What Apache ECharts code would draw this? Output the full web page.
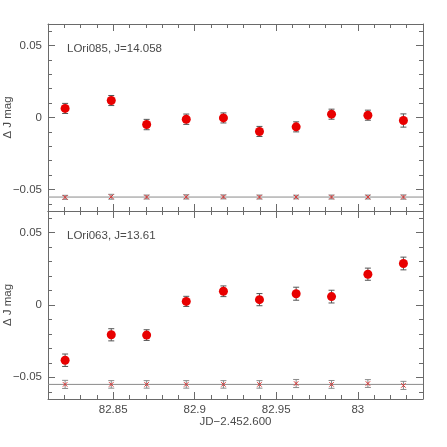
<!DOCTYPE html>
<html>
<head>
<meta charset="utf-8">
<script src="https://cdn.jsdelivr.net/npm/echarts@6/dist/echarts.min.js"></script>
<style>
  html, body { margin: 0; padding: 0; background: #fff; }
  #chart { width: 447px; height: 447px; }
</style>
</head>
<body>
<div id="chart"></div>
<script>
// observation times, JD - 2.452.600
const jd = [82.8205, 82.8488, 82.8705, 82.8948, 82.9176, 82.9397, 82.9622, 82.9839, 83.0062, 83.0280];

// LOri085, J=14.058
const mag085 = [0.0063, 0.0118, -0.0049, -0.0012, -0.0003, -0.0097, -0.0065, 0.0023, 0.0016, -0.0021];
const err085 = [0.0035, 0.0035, 0.0036, 0.0036, 0.0035, 0.0035, 0.0035, 0.0035, 0.0035, 0.0046];
const ref085 = [-0.0555, -0.0551, -0.0553, -0.0552, -0.0552, -0.0553, -0.0553, -0.0553, -0.0553, -0.0553];
const refErr085 = [0.0014, 0.0017, 0.0014, 0.0015, 0.0014, 0.0014, 0.0013, 0.0014, 0.0014, 0.0015];
const refLevel085 = -0.0553;

// LOri063, J=13.61
const mag063 = [-0.0382, -0.0206, -0.0208, 0.0025, 0.0095, 0.0037, 0.0078, 0.0058, 0.0213, 0.0287];
const err063 = [0.0043, 0.0042, 0.0037, 0.0035, 0.0037, 0.0042, 0.0045, 0.0044, 0.0042, 0.0044];
const ref063 = [-0.0549, -0.0549, -0.0549, -0.0549, -0.0549, -0.0549, -0.0543, -0.0549, -0.0543, -0.0556];
const refErr063 = [0.0028, 0.0026, 0.0026, 0.0026, 0.0026, 0.0026, 0.0028, 0.0027, 0.0027, 0.0028];
const refLevel063 = -0.0549;

// ticks
const xTicksMajor = [82.85, 82.9, 82.95, 83];
const xTicksMinor = [82.82, 82.83, 82.84, 82.85, 82.86, 82.87, 82.88, 82.89, 82.9, 82.91, 82.92,
  82.93, 82.94, 82.95, 82.96, 82.97, 82.98, 82.99, 83, 83.01, 83.02, 83.03];
const yTicksMajor = [-0.05, 0, 0.05];
const yTicksMinor = [-0.06, -0.05, -0.04, -0.03, -0.02, -0.01, 0, 0.01, 0.02, 0.03, 0.04, 0.05, 0.06];

const xMin = 82.81, xMax = 83.04;
const yMin = -0.065, yMax = 0.065;

const frame = '#6a6a6a';
const txt = '#4a4a4a';
const font = 'Liberation Sans';

const chart = echarts.init(document.getElementById('chart'));

function pack(ys, es) {
  return jd.map((x, i) => [x, ys[i], es[i]]);
}

function errBars(barColor, cross) {
  return function (params, api) {
    const x = api.value(0), y = api.value(1), e = api.value(2);
    const hi = api.coord([x, y + e]);
    const lo = api.coord([x, y - e]);
    const c = api.coord([x, y]);
    const cap = 3;
    const st = { stroke: barColor, lineWidth: 1 };
    const kids = [
      { type: 'line', shape: { x1: hi[0], y1: hi[1], x2: lo[0], y2: lo[1] }, style: st },
      { type: 'line', shape: { x1: hi[0] - cap, y1: hi[1], x2: hi[0] + cap, y2: hi[1] }, style: st },
      { type: 'line', shape: { x1: lo[0] - cap, y1: lo[1], x2: lo[0] + cap, y2: lo[1] }, style: st }
    ];
    if (cross) {
      const r = 2.2;
      const cs = { stroke: '#e03030', lineWidth: 1 };
      kids.push({ type: 'line', shape: { x1: c[0] - r, y1: c[1] - r, x2: c[0] + r, y2: c[1] + r }, style: cs });
      kids.push({ type: 'line', shape: { x1: c[0] - r, y1: c[1] + r, x2: c[0] + r, y2: c[1] - r }, style: cs });
    }
    return { type: 'group', children: kids };
  };
}

const frameLine = { show: true, onZero: false, lineStyle: { color: frame, width: 1 } };
const noLine = { show: false, onZero: false };

// four x axes and four y axes per panel: minor/major ticks, both sides
function xAxes(g, withLabels) {
  const base = {
    gridIndex: g, type: 'value', min: xMin, max: xMax,
    splitLine: { show: false }
  };
  return [
    Object.assign({}, base, {
      position: 'bottom',
      axisLine: frameLine,
      axisTick: { inside: true, length: 4, customValues: xTicksMinor, lineStyle: { color: frame } },
      axisLabel: withLabels
        ? { customValues: xTicksMajor, margin: 5, color: txt, fontFamily: font, fontSize: 11.5,
            formatter: v => String(+v.toFixed(2)) }
        : { show: false },
      name: withLabels ? 'JD\u22122.452.600' : '',
      nameLocation: 'middle', nameGap: 17, nameMoveOverlap: false,
      nameTextStyle: { color: txt, fontFamily: font, fontSize: 11.5 }
    }),
    Object.assign({}, base, {
      position: 'bottom',
      axisLine: noLine,
      axisTick: { inside: true, length: 7, customValues: xTicksMajor, lineStyle: { color: frame } },
      axisLabel: { show: false }
    }),
    Object.assign({}, base, {
      position: 'top',
      axisLine: frameLine,
      axisTick: { inside: true, length: 4, customValues: xTicksMinor, lineStyle: { color: frame } },
      axisLabel: { show: false }
    }),
    Object.assign({}, base, {
      position: 'top',
      axisLine: noLine,
      axisTick: { inside: true, length: 7, customValues: xTicksMajor, lineStyle: { color: frame } },
      axisLabel: { show: false }
    })
  ];
}

function yAxes(g) {
  const base = {
    gridIndex: g, type: 'value', min: yMin, max: yMax,
    splitLine: { show: false }
  };
  return [
    Object.assign({}, base, {
      position: 'left',
      axisLine: frameLine,
      axisTick: { inside: true, length: 4, customValues: yTicksMinor, lineStyle: { color: frame } },
      axisLabel: {
        customValues: yTicksMajor, margin: 6, color: txt, fontFamily: font, fontSize: 11.5,
        formatter: v => String(+v.toFixed(2)).replace('-', '\u2212')
      },
      name: '\u0394 J mag', nameLocation: 'middle', nameRotate: 90, nameGap: 34, nameMoveOverlap: false,
      nameTextStyle: { color: txt, fontFamily: font, fontSize: 11.5 }
    }),
    Object.assign({}, base, {
      position: 'left',
      axisLine: noLine,
      axisTick: { inside: true, length: 7, customValues: yTicksMajor, lineStyle: { color: frame } },
      axisLabel: { show: false }
    }),
    Object.assign({}, base, {
      position: 'right',
      axisLine: frameLine,
      axisTick: { inside: true, length: 4, customValues: yTicksMinor, lineStyle: { color: frame } },
      axisLabel: { show: false }
    }),
    Object.assign({}, base, {
      position: 'right',
      axisLine: noLine,
      axisTick: { inside: true, length: 7, customValues: yTicksMajor, lineStyle: { color: frame } },
      axisLabel: { show: false }
    })
  ];
}

function panelSeries(g, mag, err, ref, refErr, level) {
  const xi = g * 4, yi = g * 4;
  return [
    {
      // comparison-star mean level
      type: 'line', xAxisIndex: xi, yAxisIndex: yi, silent: true, z: 2,
      symbol: 'none', lineStyle: { color: '#8a8a8a', width: 1 },
      data: [[xMin, level], [xMax, level]]
    },
    {
      type: 'custom', xAxisIndex: xi, yAxisIndex: yi, silent: true, z: 3,
      renderItem: errBars('#8a8a8a', true),
      encode: { x: 0, y: 1 },
      data: pack(ref, refErr)
    },
    {
      type: 'custom', xAxisIndex: xi, yAxisIndex: yi, silent: true, z: 3,
      renderItem: errBars('#555555', false),
      encode: { x: 0, y: 1 },
      data: pack(mag, err)
    },
    {
      type: 'scatter', xAxisIndex: xi, yAxisIndex: yi, silent: true, z: 4,
      symbolSize: 9,
      itemStyle: { color: '#e80000', opacity: 1 },
      data: jd.map((x, i) => [x, mag[i]])
    }
  ];
}

chart.setOption({
  animation: false,
  backgroundColor: '#fff',
  grid: [
    { left: 48, top: 24, width: 375, height: 187, containLabel: false, outerBoundsMode: 'none' },
    { left: 48, top: 211, width: 375, height: 188, containLabel: false, outerBoundsMode: 'none' }
  ],
  xAxis: xAxes(0, false).concat(xAxes(1, true)),
  yAxis: yAxes(0).concat(yAxes(1)),
  graphic: [
    { type: 'text', left: 67, top: 43, style: { text: 'LOri085, J=14.058', fill: txt, font: '11.5px ' + font } },
    { type: 'text', left: 67, top: 230, style: { text: 'LOri063, J=13.61', fill: txt, font: '11.5px ' + font } }
  ],
  series: panelSeries(0, mag085, err085, ref085, refErr085, refLevel085)
    .concat(panelSeries(1, mag063, err063, ref063, refErr063, refLevel063))
});
</script>
</body>
</html>
